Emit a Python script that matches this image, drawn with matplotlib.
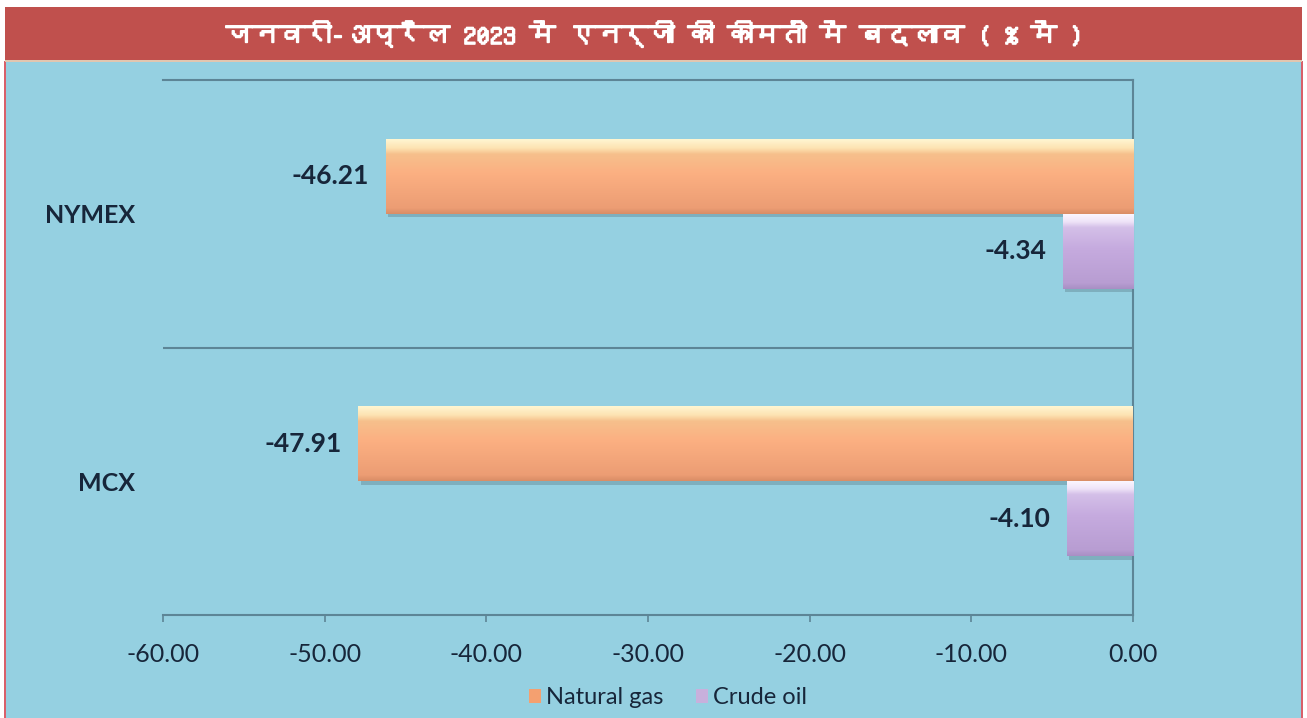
#!/usr/bin/env python3
"""energy_prices_change.py"""

import matplotlib

matplotlib.use("Agg")
import matplotlib.pyplot as plt
import numpy as np
from matplotlib import font_manager, patheffects
from matplotlib.colors import LinearSegmentedColormap
from matplotlib.patches import Patch, Rectangle

# data
title = "जनवरी-अप्रैल 2023 में एनर्जी की कीमतों में बदलाव ( % में )"
exchanges = ["MCX", "NYMEX"]  # bottom to top
natural_gas = [-47.91, -46.21]
crude_oil = [-4.10, -4.34]
series_names = ["Natural gas", "Crude oil"]
x_ticks = [-60, -50, -40, -30, -20, -10, 0]

BG = "#95d0e1"
RED = "#c0504d"
LINE = "#5d8596"
TXT = "#17263a"


def find_devanagari_family():
    # look for any installed font that actually has Devanagari glyphs
    try:
        from fontTools.ttLib import TTFont
    except ImportError:
        return None
    for f in font_manager.fontManager.ttflist:
        try:
            tt = TTFont(f.fname, fontNumber=0, lazy=True)
            cmap = tt.getBestCmap()
            if cmap and 0x091C in cmap:
                return f.name
        except Exception:
            continue
    return None


def gradient_fill(ax, patch, stops):
    # paint a vertical gradient inside a bar, clipped to the bar shape
    x, y = patch.get_x(), patch.get_y()
    w, h = patch.get_width(), patch.get_height()
    cmap = LinearSegmentedColormap.from_list("g", stops)
    grad = np.linspace(0, 1, 256).reshape(-1, 1)
    im = ax.imshow(grad, cmap=cmap, origin="lower", aspect="auto",
                   extent=[x, x + w, y, y + h], zorder=3)
    im.set_clip_path(patch)


def plot(fig, ax):
    ys = np.arange(len(exchanges)) + 0.5
    h = 0.28

    gas_bars = ax.barh(ys + h / 2, natural_gas, height=h, color="#f9ab7c",
                       zorder=2)
    oil_bars = ax.barh(ys - h / 2, crude_oil, height=h, color="#c4a9dc",
                       zorder=2)

    shadow = [patheffects.withSimplePatchShadow(offset=(1.5, -2.5),
                                                shadow_rgbFace="#4a6470",
                                                alpha=0.3)]
    # stops run bottom -> top
    gas_stops = [(0.0, "#d98d66"), (0.08, "#ec9d74"), (0.55, "#fcb082"),
                 (0.80, "#f6c08c"), (0.88, "#fde3b2"), (1.0, "#fff6d2")]
    oil_stops = [(0.0, "#a88fc4"), (0.08, "#b89dd2"), (0.55, "#c6abdf"),
                 (0.82, "#d4bfe8"), (0.9, "#efe4f8"), (1.0, "#fbf6ff")]
    for bars, stops in ((gas_bars, gas_stops), (oil_bars, oil_stops)):
        for p in bars:
            p.set_path_effects(shadow)
            gradient_fill(ax, p, stops)

    for bars, vals in ((gas_bars, natural_gas), (oil_bars, crude_oil)):
        for p, v in zip(bars, vals):
            ax.annotate(f"{v:.2f}", (v, p.get_y() + p.get_height() / 2),
                        xytext=(-12, 0), textcoords="offset points",
                        ha="right", va="center", fontsize=19,
                        fontweight="bold", color=TXT, zorder=5)

    ax.set_xlim(-60, 0)
    ax.set_ylim(0, len(exchanges))
    ax.set_facecolor("none")

    ax.set_xticks(x_ticks)
    ax.set_xticklabels([f"{t:.2f}" for t in x_ticks])
    ax.tick_params(axis="x", direction="out", length=5, width=1.2,
                   color=LINE, pad=15, labelsize=18, labelcolor=TXT)

    ax.set_yticks(ys)
    ax.set_yticklabels(exchanges, fontweight="bold")
    ax.tick_params(axis="y", length=0, pad=20, labelsize=18, labelcolor=TXT)

    # category boundary lines
    for b in range(1, len(exchanges)):
        ax.axhline(b, color=LINE, lw=1.5, zorder=1)
    for side in ("top", "right", "bottom"):
        ax.spines[side].set_color(LINE)
        ax.spines[side].set_linewidth(1.5)
    ax.spines["left"].set_visible(False)

    handles = [Patch(facecolor="#f4a070", edgecolor="none"),
               Patch(facecolor="#c8b0dc", edgecolor="none")]
    fig.legend(handles, series_names, loc="center",
               bbox_to_anchor=(668 / 1307, 1 - 698 / 718), ncol=2,
               frameon=False, fontsize=17, handlelength=0.5,
               handleheight=0.5, handletextpad=0.2, columnspacing=1.4,
               labelcolor=TXT)


def main():
    deva = find_devanagari_family()
    fams = ["Lato", "DejaVu Sans"]
    plt.rcParams["font.family"] = fams

    fig = plt.figure(figsize=(13.07, 7.18), dpi=100, facecolor="white")

    # blue panel with thin red side borders
    fig.add_artist(Rectangle((5 / 1307, 0), 1297 / 1307, 657 / 718,
                             transform=fig.transFigure, facecolor=BG,
                             edgecolor="none", zorder=0))
    for xp in (5, 1302):
        fig.add_artist(Rectangle((xp / 1307 - 0.0008, 0), 0.0016, 657 / 718,
                                 transform=fig.transFigure, facecolor="#d9606a",
                                 edgecolor="none", zorder=0))
    # title band
    fig.add_artist(Rectangle((5 / 1307, 658 / 718), 1297 / 1307, 53 / 718,
                             transform=fig.transFigure, facecolor=RED,
                             edgecolor="none", zorder=0))
    fig.add_artist(Rectangle((5 / 1307, 656.5 / 718), 1297 / 1307, 2 / 718,
                             transform=fig.transFigure, facecolor="#e2c6b0",
                             edgecolor="none", zorder=0))
    title_fams = ([deva] if deva else []) + fams
    fig.text(655 / 1307, 1 - 34 / 718, title, ha="center", va="center",
             color="white", fontsize=19, fontweight="bold",
             family=title_fams,
             path_effects=[patheffects.withStroke(linewidth=1.2,
                                                  foreground="white")])

    ax = fig.add_axes([163 / 1307, 103 / 718, 970 / 1307, 535 / 718])
    plot(fig, ax)
    fig.savefig("out.png", dpi=100, facecolor="white")


if __name__ == "__main__":
    main()
